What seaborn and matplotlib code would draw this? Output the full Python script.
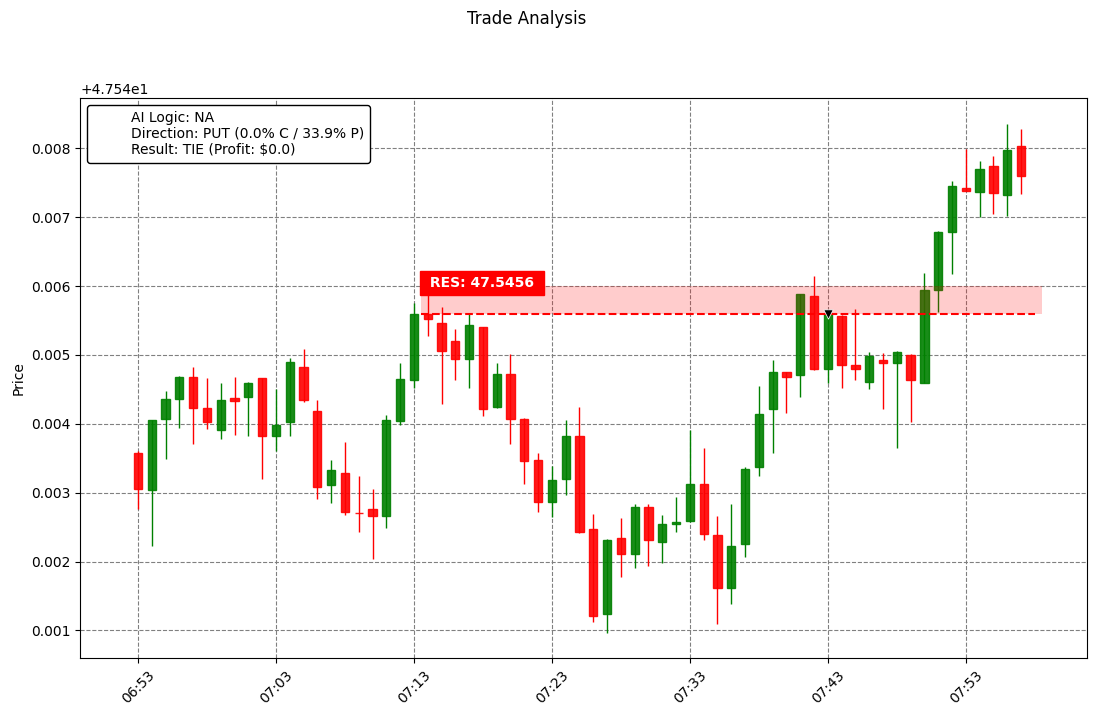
import numpy as np
import pandas as pd
import matplotlib
matplotlib.use("Agg")
import matplotlib.pyplot as plt
import matplotlib.dates as mdates
from matplotlib.lines import Line2D
import seaborn as sns

# one candle per minute, 06:53 -> 07:57
times = pd.date_range("2024-01-01 06:53", periods=65, freq="1min")

# prices as thousandths above 47.54
open_off = [3.58, 3.04, 4.07, 4.36, 4.68, 4.23, 3.91, 4.37, 4.39, 4.66,
            3.82, 4.03, 4.83, 4.18, 3.11, 3.29, 2.71, 2.77, 2.66, 4.04,
            4.63, 5.59, 5.47, 5.20, 4.94, 5.40, 4.24, 4.73, 4.07, 3.47,
            2.86, 3.20, 3.82, 2.48, 1.24, 2.35, 2.11, 2.80, 2.28, 2.55,
            2.59, 3.13, 2.39, 1.62, 2.26, 3.38, 4.21, 4.76, 4.71, 5.85,
            4.79, 5.57, 4.86, 4.61, 4.92, 4.88, 5.00, 4.60, 5.95, 6.78,
            7.43, 7.36, 7.75, 7.32, 8.04]
high_off = [3.60, 4.06, 4.47, 4.69, 4.82, 4.66, 4.60, 4.68, 4.61, 4.67,
            4.50, 4.95, 5.08, 4.34, 3.48, 3.73, 3.25, 3.06, 4.13, 4.89,
            5.75, 5.88, 5.69, 5.37, 5.61, 5.41, 4.89, 5.01, 4.08, 3.58,
            3.39, 4.06, 4.25, 2.69, 2.33, 2.64, 2.83, 2.83, 2.67, 2.94,
            3.91, 3.65, 2.66, 2.84, 3.38, 4.55, 4.92, 4.76, 5.89, 6.14,
            5.64, 5.58, 5.67, 5.05, 5.03, 5.06, 5.02, 6.19, 6.80, 7.53,
            7.99, 7.81, 7.89, 8.36, 8.28]
low_off = [2.76, 2.22, 3.49, 3.94, 3.71, 3.92, 3.78, 3.84, 3.82, 3.20,
           3.60, 3.82, 4.31, 2.91, 2.85, 2.67, 2.43, 2.04, 2.49, 3.99,
           4.52, 5.27, 4.29, 4.63, 4.52, 4.12, 4.23, 3.71, 3.13, 2.72,
           2.65, 2.96, 2.41, 1.13, 0.97, 1.77, 1.90, 1.93, 1.98, 2.43,
           2.58, 2.31, 1.09, 1.39, 2.06, 3.25, 3.57, 4.16, 4.39, 4.78,
           4.60, 4.52, 4.63, 4.50, 4.22, 3.65, 4.02, 4.59, 5.63, 6.18,
           7.38, 7.01, 7.04, 7.02, 7.33]
close_off = [3.06, 4.05, 4.36, 4.68, 4.23, 4.03, 4.34, 4.33, 4.60, 3.82,
             3.99, 4.90, 4.34, 3.09, 3.33, 2.72, 2.70, 2.66, 4.05, 4.65,
             5.59, 5.52, 5.06, 4.94, 5.43, 4.21, 4.73, 4.07, 3.46, 2.86,
             3.18, 3.82, 2.43, 1.21, 2.32, 2.11, 2.80, 2.31, 2.55, 2.57,
             3.13, 2.40, 1.62, 2.22, 3.34, 4.15, 4.76, 4.68, 5.88, 4.79,
             5.61, 4.85, 4.80, 4.99, 4.89, 5.05, 4.63, 5.95, 6.79, 7.46,
             7.38, 7.70, 7.35, 7.97, 7.60]

base = 47.54
opens = base + np.array(open_off) * 1e-3
highs = base + np.array(high_off) * 1e-3
lows = base + np.array(low_off) * 1e-3
closes = base + np.array(close_off) * 1e-3

res_level = 47.5456
zone_top = 47.5460
entry_time = pd.Timestamp("2024-01-01 07:43")
entry_price = 47.5456

info_text = ("AI Logic: NA\n"
             "Direction: PUT (0.0% C / 33.9% P)\n"
             "Result: TIE (Profit: $0.0)")

minute = 1.0 / (24 * 60)
x = mdates.date2num(times)

fig, ax = plt.subplots(figsize=(10.96, 7.16), dpi=100)
fig.subplots_adjust(left=0.073, right=0.992, bottom=0.081, top=0.863)

up = closes >= opens
colors = np.where(up, "green", "red")

# wicks then bodies
ax.vlines(x, lows, highs, colors=colors, linewidth=1, zorder=2)
ax.bar(x, np.abs(closes - opens), bottom=np.minimum(opens, closes),
       width=0.6 * minute, color=colors, edgecolor=colors, alpha=0.9,
       linewidth=1, zorder=3)

# resistance zone + line
x0 = x[20] + 0.5 * minute
x1 = x[-1] + 1.5 * minute
ax.fill_between([x0, x1], res_level, zone_top, color="red", alpha=0.2,
                linewidth=0, zorder=4)
sns.lineplot(x=[x0, x1 - 0.5 * minute], y=[res_level, res_level], ax=ax,
             color="red", linestyle="--", linewidth=1.5, zorder=5)
ax.text(x0 + 0.3 * minute, 47.54605, " RES: 47.5456 ", color="white",
        fontweight="bold", fontsize=10, va="center", ha="left", zorder=6,
        bbox=dict(boxstyle="square,pad=0.35", facecolor="red", edgecolor="red"))

# entry marker
sns.scatterplot(x=[mdates.date2num(entry_time)], y=[entry_price - 0.00001], ax=ax,
                marker="v", color="black", s=45, zorder=7, legend=False)

handles = [Line2D([], [], linestyle="none", label=info_text)]
leg = ax.legend(handles=handles, loc="upper left", framealpha=1)
leg.get_frame().set_edgecolor("black")

ax.xaxis.set_major_locator(matplotlib.ticker.FixedLocator(x[::10]))
ax.xaxis.set_major_formatter(mdates.DateFormatter("%H:%M"))
plt.setp(ax.get_xticklabels(), rotation=45)
ax.set_xlim(x[0] - 4.2 * minute, x[0] + 68.8 * minute)

ax.grid(True, linestyle="--", color="gray")
ax.set_axisbelow(True)
ax.set_ylabel("Price")
ax.set_xlabel("")
fig.suptitle("Trade Analysis", x=0.4805, y=0.986)

fig.savefig("out.png", dpi=100)
